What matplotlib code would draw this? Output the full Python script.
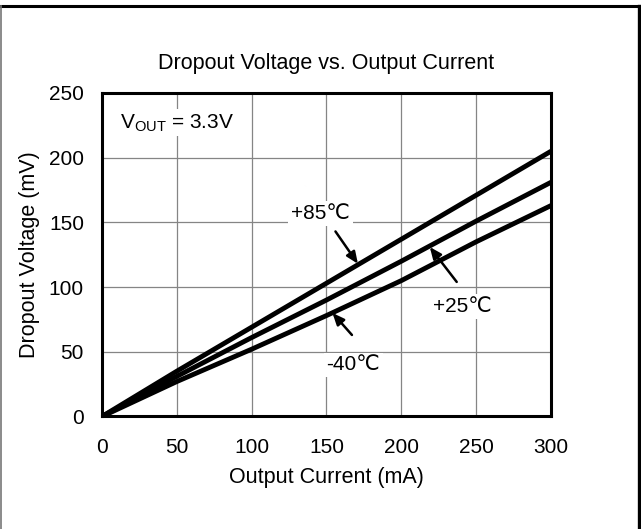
import matplotlib
matplotlib.use("Agg")
import matplotlib.pyplot as plt
from matplotlib.lines import Line2D

plt.rcParams["font.family"] = ["Liberation Sans", "DejaVu Sans"]

# output current (mA) and dropout voltage (mV) per temperature
current = [0, 50, 100, 150, 200, 250, 300]
vdrop_85 = [0, 35, 69, 103, 137, 171, 205]
vdrop_25 = [0, 31, 61, 90, 120, 151, 181]
vdrop_m40 = [0, 27, 52, 78, 105, 135, 163]

# (label, text position, arrow tail, arrow head) in data units
labels = [
    ("+85\u2103", (146, 157), (156, 143), (171, 118)),
    ("+25\u2103", (241, 85), (237, 104), (219, 131)),
    ("-40\u2103", (168, 40), (167, 63), (154, 80)),
]

FS = 15

fig = plt.figure(figsize=(6.41, 5.29), dpi=100)
ax = fig.add_axes([0.1591, 0.2127, 0.7005, 0.6115])

for y in (vdrop_85, vdrop_25, vdrop_m40):
    ax.plot(current, y, color="black", lw=3.5, solid_capstyle="butt", zorder=3)

ax.set_xlim(0, 300)
ax.set_ylim(0, 250)
ax.set_xticks(range(0, 301, 50))
ax.set_yticks(range(0, 251, 50))
ax.grid(color="#858585", lw=0.9)
ax.set_axisbelow(True)
ax.tick_params(length=0, labelsize=FS)
ax.tick_params(axis="x", pad=15.5)
ax.tick_params(axis="y", pad=13)
for s in ax.spines.values():
    s.set_linewidth(2.2)
    s.set_zorder(5)

ax.set_title("Dropout Voltage vs. Output Current", fontsize=15.5, pad=17)
ax.set_xlabel("Output Current (mA)", fontsize=15.5, labelpad=7)
ax.set_ylabel("Dropout Voltage (mV)", fontsize=15.5, labelpad=6)

box = dict(facecolor="white", edgecolor="none", pad=2)
ax.text(12, 227, r"V$_{\mathregular{OUT}}$ = 3.3V", fontsize=FS,
        ha="left", va="center", bbox=box, zorder=4)
for txt, pos, tail, head in labels:
    ax.text(pos[0], pos[1], txt, fontsize=FS, ha="center", va="center",
            bbox=box, zorder=4)
    ax.annotate("", xy=head, xytext=tail, zorder=4,
                arrowprops=dict(arrowstyle="-|>,head_length=0.7,head_width=0.3",
                                color="black", lw=1.8, shrinkA=0, shrinkB=0))

# page frame around the figure
fig.add_artist(Line2D([0.0, 0.997], [0.9887, 0.9887], color="black", lw=2.2,
                      transform=fig.transFigure))
fig.add_artist(Line2D([0.997, 0.997], [0.0, 0.9887], color="black", lw=2.4,
                      transform=fig.transFigure))
fig.add_artist(Line2D([0.001, 0.001], [0.0, 0.9887], color="#777777", lw=1.2,
                      transform=fig.transFigure))

fig.savefig("out.png", dpi=100)
